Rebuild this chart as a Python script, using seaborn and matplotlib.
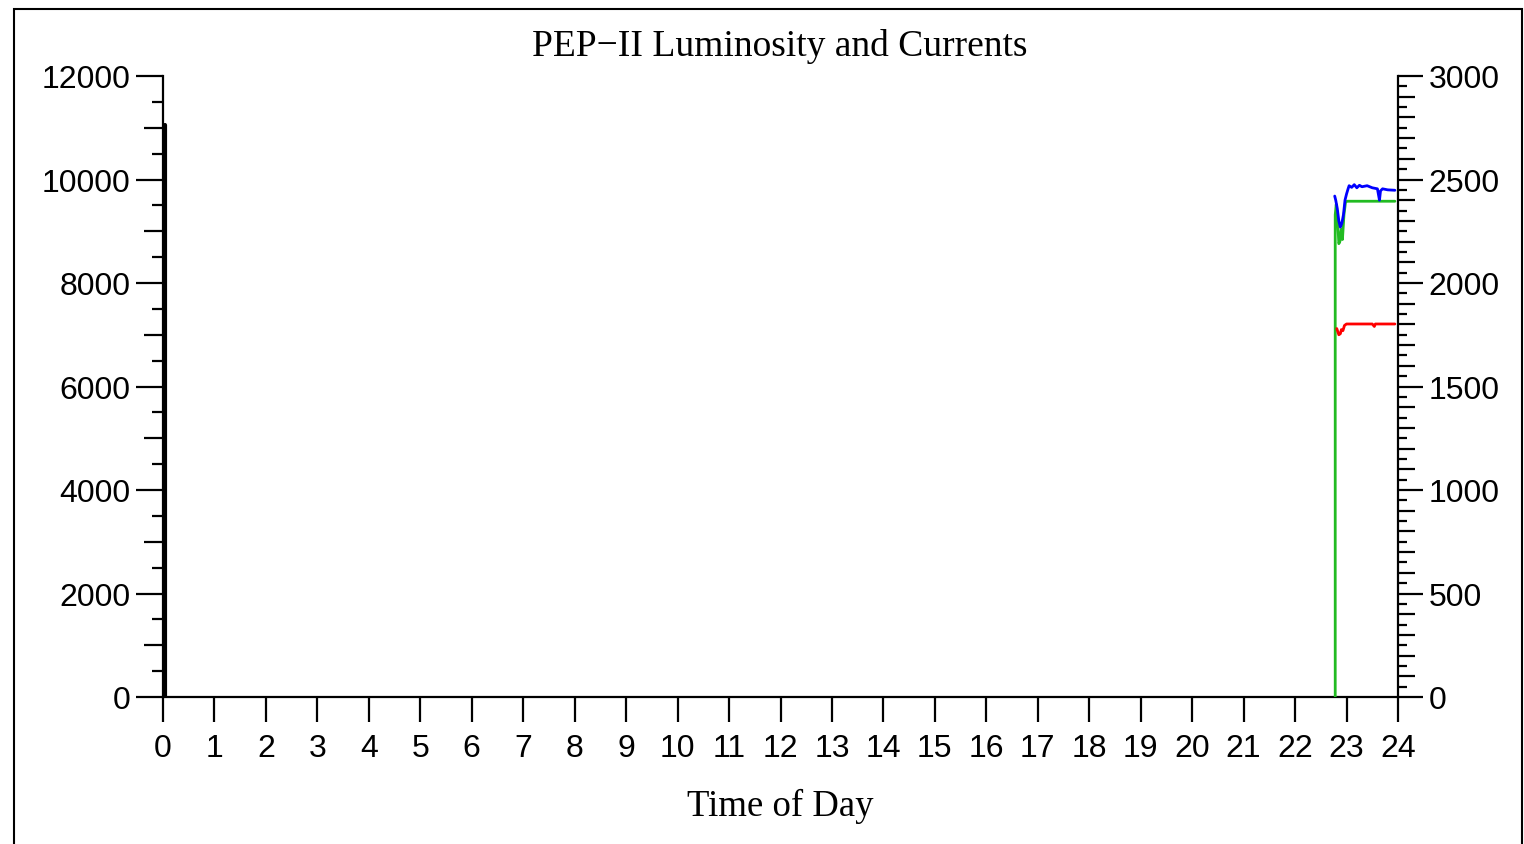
import seaborn as sns
import pandas as pd
import matplotlib.pyplot as plt
import numpy as np
from matplotlib.ticker import MultipleLocator, FixedLocator
from matplotlib.patches import Rectangle

# data
lum_t = [0.03, 0.03]
lum_v = [0, 11050]  # left axis

green_t = [22.78, 22.78, 22.80, 22.83, 22.85, 22.87, 22.90, 22.92, 22.95, 22.98, 23.01, 23.94]
green_v = [0, 2330, 2380, 2290, 2190, 2200, 2260, 2210, 2330, 2390, 2395, 2395]

blue_t = [22.77, 22.79, 22.82, 22.85, 22.88, 22.91, 22.94, 22.97, 23.00, 23.03, 23.05, 23.10, 23.15,
          23.20, 23.25, 23.30, 23.40, 23.50, 23.60, 23.64, 23.66, 23.70, 23.80, 23.94]
blue_v = [2420, 2400, 2360, 2300, 2270, 2290, 2330, 2400, 2430, 2455, 2470, 2462, 2475,
          2460, 2472, 2465, 2470, 2460, 2455, 2400, 2445, 2455, 2450, 2448]

red_t = [22.81, 22.83, 22.85, 22.88, 22.90, 22.93, 22.96, 23.00, 23.50, 23.54, 23.56, 23.94]
red_v = [1780, 1765, 1750, 1755, 1775, 1770, 1795, 1802, 1802, 1790, 1802, 1802]

sns.set_style("white")
plt.rcParams['font.family'] = ['Liberation Sans', 'DejaVu Sans']
plt.rcParams['text.color'] = 'black'
plt.rcParams['xtick.color'] = 'black'
plt.rcParams['ytick.color'] = 'black'
plt.rcParams['axes.edgecolor'] = 'black'

fig = plt.figure(figsize=(15.24, 8.45), dpi=100)
ax = fig.add_axes([163/1524, 1-698/845, (1398-163)/1524, (698-77)/845])
ax2 = ax.twinx()

sns.lineplot(x=lum_t, y=lum_v, ax=ax, color='black', lw=3, estimator=None, sort=False)
sns.lineplot(x=green_t, y=green_v, ax=ax2, color='#22bb22', lw=2, estimator=None, sort=False)
sns.lineplot(x=blue_t, y=blue_v, ax=ax2, color='blue', lw=2, estimator=None, sort=False)
sns.lineplot(x=red_t, y=red_v, ax=ax2, color='red', lw=2, estimator=None, sort=False)

ax.set_xlim(0, 24)
ax.set_ylim(0, 12000)
ax2.set_ylim(0, 3000)

# x axis
ax.xaxis.set_major_locator(MultipleLocator(1))
ax.tick_params(axis='x', which='major', length=18, width=1.6, direction='out', pad=8,
               labelsize=23, bottom=True, colors='black')

# left axis: long at 2000, medium at 1000, short at 500
ax.yaxis.set_major_locator(MultipleLocator(2000))
left_minor = [v for v in range(500, 12000, 500) if v % 2000]
ax.yaxis.set_minor_locator(FixedLocator(left_minor))
ax.tick_params(axis='y', which='major', length=19.5, width=1.6, direction='out', pad=4,
               labelsize=23, left=True, colors='black')
ax.tick_params(axis='y', which='minor', length=8, width=1.6, direction='out', left=True,
               colors='black')
for tk, loc in zip(ax.yaxis.get_minor_ticks(len(left_minor)), left_minor):
    if loc % 1000 == 0:
        tk.tick1line.set_markersize(13.7)

# right axis: long at 500, medium at 100, short at 50
ax2.yaxis.set_major_locator(MultipleLocator(500))
right_minor = [v for v in range(50, 3000, 50) if v % 500]
ax2.yaxis.set_minor_locator(FixedLocator(right_minor))
ax2.tick_params(axis='y', which='major', length=18, width=1.6, direction='out', pad=4,
                labelsize=23, right=True, colors='black')
ax2.tick_params(axis='y', which='minor', length=6.5, width=1.6, direction='out', right=True,
                colors='black')
for tk, loc in zip(ax2.yaxis.get_minor_ticks(len(right_minor)), right_minor):
    if loc % 100 == 0:
        tk.tick2line.set_markersize(12.2)

for a in (ax, ax2):
    a.set_xlabel('')
    a.set_ylabel('')
    for s in a.spines.values():
        s.set_linewidth(1.6)
        s.set_color('black')
    a.spines['top'].set_visible(False)
ax.spines['right'].set_visible(False)
ax2.spines['left'].set_visible(False)
ax2.spines['bottom'].set_visible(False)

fig.text(780/1524, 1-47/845, 'PEP\u2212II Luminosity and Currents', ha='center', va='center',
         fontsize=27, color='black', family=['Liberation Serif', 'DejaVu Serif'])
fig.text(780/1524, 1-806/845, 'Time of Day', ha='center', va='center',
         fontsize=26.5, color='black', family=['Liberation Serif', 'DejaVu Serif'])

# outer frame
fig.patches.append(Rectangle((14/1524, -0.05), (1522-14)/1524, 1-10/845+0.05, fill=False,
                             lw=1.5, edgecolor='black', transform=fig.transFigure, clip_on=False))

fig.savefig('out.png', dpi=100, facecolor='white')
